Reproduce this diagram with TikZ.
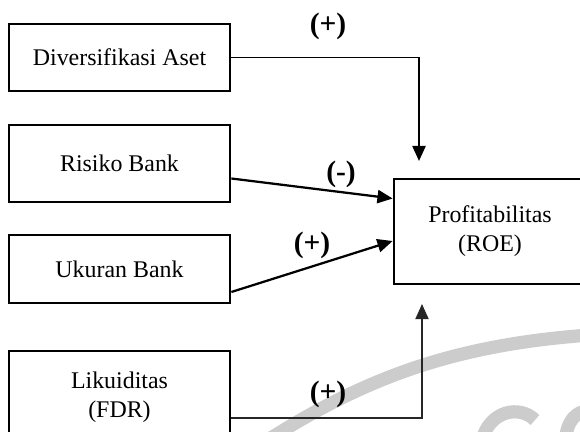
\documentclass[tikz,border=0pt]{standalone}
\usepackage{fontspec}
\setmainfont{Liberation Serif}
\usetikzlibrary{arrows.meta,calc}

\begin{document}
\begin{tikzpicture}[x=0.025cm,y=-0.025cm,
    box/.style={draw,line width=1.9pt,minimum width=5.525cm,align=center,
      inner sep=0pt,font=\fontsize{17}{20.5}\selectfont},
    arr/.style={line width=1.6pt,-{Triangle[length=0.38cm,width=0.33cm]}},
    sgn/.style={font=\fontsize{21}{24}\selectfont\bfseries,inner sep=0pt},
    wmark/.style={black!20,line width=0.33cm}]
  \useasboundingbox (0,0) rectangle (580,432);
  % watermark
  \draw[wmark] (260,445) .. controls (360,380) and (450,345) .. (590,335);
  \draw[wmark] (482,440) .. controls (490,410) and (520,405) .. (535,420);
  \draw[wmark] (565,440) .. controls (568,420) and (575,412) .. (590,410);
  % variables
  \node[box,minimum height=1.675cm] (div) at (119.5,57.5) {Diversifikasi Aset};
  \node[box,minimum height=1.925cm] (risiko) at (119.5,163.5) {Risiko Bank};
  \node[box,minimum height=1.7cm] (ukuran) at (119.5,269) {Ukuran Bank};
  \node[box,minimum height=2.3cm] (likuid) at (119.5,397) {Likuiditas\\(FDR)};
  \node[box,minimum width=4.8cm,minimum height=2.625cm] (roe) at (490,231.5)
    {Profitabilitas\\(ROE)};
  % paths
  \coordinate (dtop) at (419,57);
  \coordinate (dend) at (419,161);
  \coordinate (lend) at (422,304);
  \draw[line width=0.8pt] (div.east) -- (div.east -| dtop);
  \draw[arr] (dtop) -- (dend);
  \draw[arr] ($(risiko.east)+(0,15)$) -- ($(roe.west)+(0,-33)$);
  \draw[arr] ($(ukuran.east)+(0,23)$) -- ($(roe.west)+(0,9.5)$);
  \draw[arr,line width=1.2pt,black!85] ($(likuid.east)+(0,21)$) -| (lend);
  % signs
  \node[sgn] (sdiv) at (328,26) {(+)};
  \node[sgn] (srisiko) at (341,174) {(-)};
  \node[sgn] (sukuran) at (312,245) {(+)};
  \node[sgn] (slikuid) at (328,394) {(+)};
\end{tikzpicture}
\end{document}
